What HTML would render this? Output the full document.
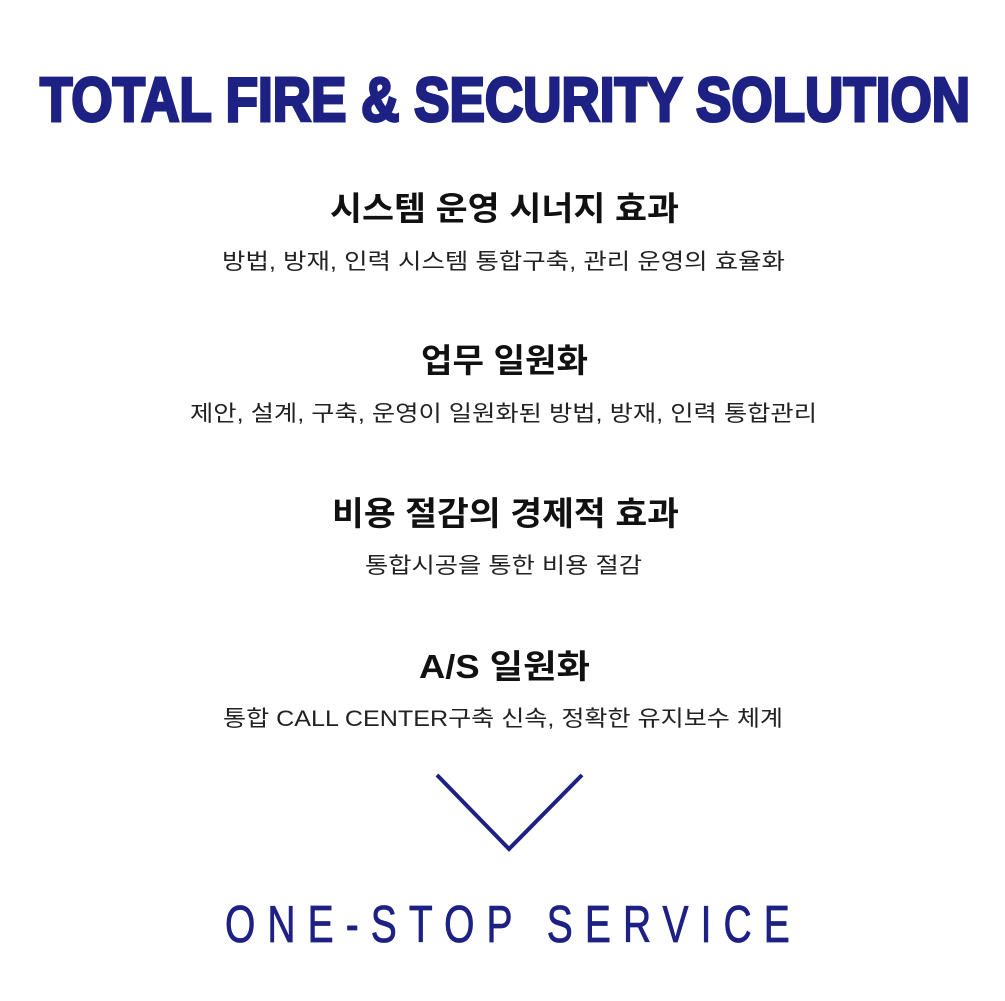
<!DOCTYPE html>
<html><head><meta charset="utf-8"><style>
html,body{margin:0;padding:0;background:#fff;width:1005px;height:1001px;overflow:hidden}
svg{display:block}
.h{font-family:"Liberation Sans","Noto Sans CJK KR",sans-serif;font-weight:bold;font-size:33px;fill:#111}
.s{font-family:"Liberation Sans","Noto Sans CJK KR",sans-serif;font-size:22px;fill:#222}
</style></head><body>
<svg width="1005" height="1001" viewBox="0 0 1005 1001">
<text x="40" y="121" textLength="930" lengthAdjust="spacingAndGlyphs" style="font-family:'Liberation Sans',sans-serif;font-weight:900;font-size:62px;fill:#1e2184;stroke:#1e2184;stroke-width:3px">TOTAL FIRE &amp; SECURITY SOLUTION</text>

<text class="h" x="330" y="220" textLength="349" lengthAdjust="spacingAndGlyphs">시스템 운영 시너지 효과</text>
<text class="s" x="222" y="269" textLength="563" lengthAdjust="spacingAndGlyphs">방법, 방재, 인력 시스템 통합구축, 관리 운영의 효율화</text>

<text class="h" x="421" y="372" textLength="167" lengthAdjust="spacingAndGlyphs">업무 일원화</text>
<text class="s" x="190" y="421" textLength="627" lengthAdjust="spacingAndGlyphs">제안, 설계, 구축, 운영이 일원화된 방법, 방재, 인력 통합관리</text>

<text class="h" x="332" y="525" textLength="347" lengthAdjust="spacingAndGlyphs">비용 절감의 경제적 효과</text>
<text class="s" x="365" y="573" textLength="277" lengthAdjust="spacingAndGlyphs">통합시공을 통한 비용 절감</text>

<text class="h" x="419" y="678" textLength="171" lengthAdjust="spacingAndGlyphs">A/S 일원화</text>
<text class="s" x="223" y="726" textLength="560" lengthAdjust="spacingAndGlyphs">통합 CALL CENTER구축 신속, 정확한 유지보수 체계</text>

<polyline points="437,775 509,849 582,775" fill="none" stroke="#1e2184" stroke-width="4"/>

<g transform="scale(0.75,1)">
<text x="300" y="942" textLength="753" lengthAdjust="spacing" style="font-family:'Liberation Sans',sans-serif;font-size:52px;fill:#1e2184;stroke:#1e2184;stroke-width:0.8px">ONE-STOP SERVICE</text>
</g>
</svg>
</body></html>
